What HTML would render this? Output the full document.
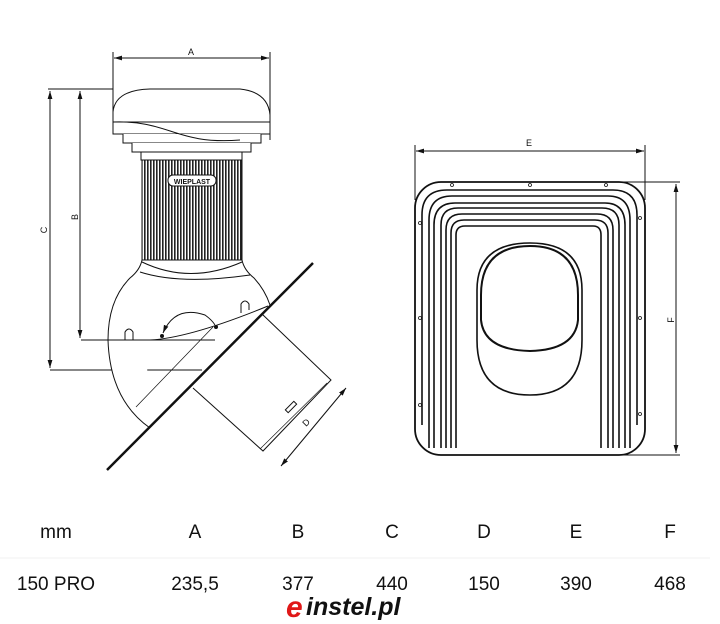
<!DOCTYPE html>
<html><head><meta charset="utf-8"><style>
html,body{margin:0;padding:0;background:#fff;}
svg{display:block}
text{font-family:"Liberation Sans",sans-serif}
</style></head><body>
<svg width="720" height="624" viewBox="0 0 720 624" xmlns="http://www.w3.org/2000/svg">
<defs>
<marker id="ar" viewBox="0 0 10 10" refX="10" refY="5" markerWidth="8" markerHeight="8" orient="auto-start-reverse"><path d="M0,2 L10,5 L0,8z" fill="#111"/></marker>
<pattern id="rib" width="3" height="10" patternUnits="userSpaceOnUse"><rect width="3" height="10" fill="#fff"/><rect width="1.6" height="10" fill="#222"/></pattern>
</defs>
<g stroke="#111" fill="none" stroke-width="1">
<!-- A dimension -->
<line x1="113" y1="52" x2="113" y2="130"/><line x1="270" y1="52" x2="270" y2="140"/>
<line x1="114" y1="58" x2="269" y2="58" marker-start="url(#ar)" marker-end="url(#ar)"/>
<!-- C/B -->
<line x1="48" y1="89" x2="113" y2="89"/>
<line x1="50" y1="91" x2="50" y2="368" marker-start="url(#ar)" marker-end="url(#ar)"/>
<line x1="80" y1="91" x2="80" y2="338" marker-start="url(#ar)" marker-end="url(#ar)"/>
<line x1="81" y1="340" x2="215" y2="340"/>
<line x1="50" y1="370" x2="202" y2="370"/>
<!-- cap -->
<path d="M113,122 L113,112 Q115,90 150,89 L240,89 Q268,92 270,115 L270,122 Z" fill="#fff"/>
<rect x="113" y="122" width="157" height="12" fill="#fff"/>
<path d="M123,134 L123,143 L261,143 L261,134" fill="#fff"/>
<path d="M132,143 L132,152 L251,152 L251,143" fill="#fff"/>
<path d="M141,152 L141,160 L242,160 L242,152"/>
<path d="M113,122 C170,120 175,145 240,140"/>
<!-- ribbed -->
<rect x="142" y="160" width="100" height="100" fill="url(#rib)"/>
<rect x="168" y="175" width="48" height="11" rx="5" fill="#fff"/>
<text x="192" y="184" font-size="7" text-anchor="middle" fill="#111" stroke="none" font-weight="bold">WIEPLAST</text>
<!-- body -->
<path d="M142,260 Q140,270 130,278 Q108,300 108,340 Q110,400 150,428" fill="#fff"/>
<path d="M242,260 Q244,270 254,278 Q265,290 270,305"/>
<path d="M142,262 Q190,285 242,262"/>
<path d="M140,272 Q180,285 250,275"/>
<path d="M108,340 L150,340 Q190,338 268,306"/>
<path d="M125,340 L125,332 Q129,326 133,332 L133,340"/>
<path d="M241,313 L241,304 Q245,298 249,304 L249,310"/>
<path d="M163,333 Q175,305 205,315 Q212,320 215,325" marker-start="url(#ar)"/>
<circle cx="162" cy="336" r="1.5" fill="#111"/><circle cx="216" cy="327" r="1.5" fill="#111"/>
<!-- roof -->
<line x1="107" y1="470" x2="313" y2="263" stroke-width="2.5"/>
<line x1="136" y1="407" x2="213" y2="327" stroke-width="0.7"/>
<!-- pipe -->
<path d="M262,314 L331,380 L263,451 L193,388"/>
<line x1="327" y1="383" x2="260" y2="449" stroke-width="0.6"/>
<line x1="346" y1="388" x2="281" y2="466" marker-start="url(#ar)" marker-end="url(#ar)"/>
<rect x="285" y="405" width="12" height="4" transform="rotate(-45 291 407)"/>
<text x="306" y="427" font-size="9" fill="#111" stroke="none" transform="rotate(-45 306 427)">D</text>
</g>
<text x="191" y="55" font-size="9" text-anchor="middle" fill="#111">A</text>
<text x="47" y="230" font-size="9" text-anchor="middle" fill="#111" transform="rotate(-90 47 230)">C</text>
<text x="78" y="217" font-size="9" text-anchor="middle" fill="#111" transform="rotate(-90 78 217)">B</text>
<!-- right -->
<g stroke="#111" fill="none">
<line x1="415" y1="145" x2="415" y2="200"/><line x1="645" y1="145" x2="645" y2="200"/>
<line x1="416" y1="151" x2="644" y2="151" marker-start="url(#ar)" marker-end="url(#ar)"/>
<line x1="620" y1="182" x2="680" y2="182"/><line x1="620" y1="455" x2="680" y2="455"/>
<line x1="676" y1="184" x2="676" y2="453" marker-start="url(#ar)" marker-end="url(#ar)"/>
<rect x="415" y="182" width="230" height="273" rx="26" stroke-width="1.8"/>
<g stroke-width="1.6">
<path d="M422,425 L422,215 Q422,190 447,190 L613,190 Q637,190 637,215 L637,425"/>
<path d="M429,448 L429,220 Q429,196 452,196 L608,196 Q630,196 630,220 L630,448"/>
<path d="M434,448 L434,225 Q434,203 455,203 L605,203 Q625,203 625,225 L625,448"/>
<path d="M441,448 L441,225 Q441,208 458,208 L602,208 Q619,208 619,225 L619,448"/>
<path d="M446,448 L446,230 Q446,214 462,214 L597,214 Q613,214 613,230 L613,448"/>
<path d="M451,448 L451,233 Q451,220 464,220 L595,220 Q608,220 608,233 L608,448"/>
<path d="M456,448 L456,235 Q456,226 465,226 L593,226 Q601,226 601,235 L601,448"/>
</g>
<path d="M477,290 Q477,243 530,243 Q582,243 582,290 L582,340 Q582,395 530,395 Q477,395 477,340 Z" stroke-width="1.6"/>
<path d="M481,295 Q481,246 530,246 Q578,246 578,295 L578,320 Q575,350 530,351 Q484,350 481,320 Z" stroke-width="2"/>
<g stroke-width="0.8" fill="#fff">
<circle cx="452" cy="185" r="1.5"/><circle cx="530" cy="185" r="1.5"/><circle cx="606" cy="185" r="1.5"/>
<circle cx="420" cy="223" r="1.5"/><circle cx="420" cy="318" r="1.5"/><circle cx="420" cy="405" r="1.5"/>
<circle cx="640" cy="218" r="1.5"/><circle cx="640" cy="318" r="1.5"/><circle cx="640" cy="414" r="1.5"/>
</g>
</g>
<text x="529" y="146" font-size="9" text-anchor="middle" fill="#111">E</text>
<text x="674" y="320" font-size="9" text-anchor="middle" fill="#111" transform="rotate(-90 674 320)">F</text>
<!-- table -->
<line x1="0" y1="558" x2="710" y2="558" stroke="#f0f0f0"/>
<g font-size="19" fill="#111" text-anchor="middle">
<text x="56" y="538">mm</text><text x="195" y="538">A</text><text x="298" y="538">B</text><text x="392" y="538">C</text><text x="484" y="538">D</text><text x="576" y="538">E</text><text x="670" y="538">F</text>
<text x="56" y="590">150 PRO</text><text x="195" y="590">235,5</text><text x="298" y="590">377</text><text x="392" y="590">440</text><text x="484" y="590">150</text><text x="576" y="590">390</text><text x="670" y="590">468</text>
</g>
<text x="286" y="617" font-size="30" font-style="italic" font-weight="bold" fill="#e01818" font-family="Liberation Serif,serif">e</text>
<text x="306" y="615" font-size="25" font-style="italic" font-weight="bold" fill="#111">instel.pl</text>
</svg>
</body></html>
